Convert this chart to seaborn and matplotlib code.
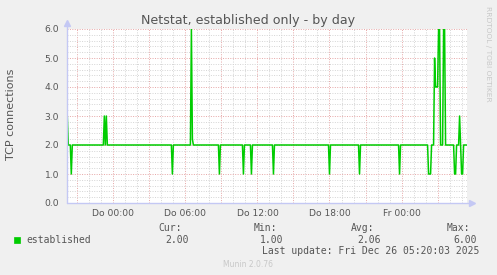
import matplotlib
matplotlib.use("Agg")
import matplotlib.pyplot as plt
import matplotlib.dates as mdates
from matplotlib.ticker import MultipleLocator, FuncFormatter
from matplotlib.patches import Rectangle
import pandas as pd
import seaborn as sns

# ---------------- data (breakpoints of the 5-minute series) ----------------
times = [
    "2025-12-24 20:10", "2025-12-24 20:15", "2025-12-24 20:25", "2025-12-24 20:30",
    "2025-12-24 20:35", "2025-12-24 23:10", "2025-12-24 23:15", "2025-12-24 23:20",
    "2025-12-24 23:25", "2025-12-24 23:30",
    "2025-12-25 04:50", "2025-12-25 04:55", "2025-12-25 05:00",
    "2025-12-25 06:25", "2025-12-25 06:30", "2025-12-25 06:35", "2025-12-25 06:40",
    "2025-12-25 08:45", "2025-12-25 08:50", "2025-12-25 08:55",
    "2025-12-25 10:45", "2025-12-25 10:50", "2025-12-25 10:55",
    "2025-12-25 11:25", "2025-12-25 11:30", "2025-12-25 11:35",
    "2025-12-25 13:15", "2025-12-25 13:20", "2025-12-25 13:25",
    "2025-12-25 17:55", "2025-12-25 18:00", "2025-12-25 18:05",
    "2025-12-25 20:25", "2025-12-25 20:30", "2025-12-25 20:35",
    "2025-12-25 23:45", "2025-12-25 23:50", "2025-12-25 23:55",
    "2025-12-26 02:10", "2025-12-26 02:15", "2025-12-26 02:25", "2025-12-26 02:30",
    "2025-12-26 02:40", "2025-12-26 02:45", "2025-12-26 02:50", "2025-12-26 02:55",
    "2025-12-26 03:00", "2025-12-26 03:05", "2025-12-26 03:10", "2025-12-26 03:15",
    "2025-12-26 03:25", "2025-12-26 03:30", "2025-12-26 03:35", "2025-12-26 03:40",
    "2025-12-26 04:20", "2025-12-26 04:25", "2025-12-26 04:30", "2025-12-26 04:35",
    "2025-12-26 04:45", "2025-12-26 04:50", "2025-12-26 04:55", "2025-12-26 05:00",
    "2025-12-26 05:05", "2025-12-26 05:10", "2025-12-26 05:25",
]
values = [
    3.0, 2.0, 2.0, 1.0,
    2.0, 2.0, 3.0, 2.0,
    3.0, 2.0,
    2.0, 1.0, 2.0,
    2.0, 6.0, 2.2, 2.0,
    2.0, 1.0, 2.0,
    2.0, 1.0, 2.0,
    2.0, 1.0, 2.0,
    2.0, 1.0, 2.0,
    2.0, 1.0, 2.0,
    2.0, 1.0, 2.0,
    2.0, 1.0, 2.0,
    2.0, 1.0, 1.0, 2.0,
    2.0, 5.0, 4.0, 4.0,
    4.0, 6.0, 6.0, 2.0,
    2.0, 6.0, 6.0, 2.0,
    2.0, 1.0, 1.0, 2.0,
    2.0, 3.0, 2.0, 1.0,
    1.0, 2.0, 2.0,
]

title = "Netstat, established only - by day"
y_label = "TCP connections"
series_name = "established"
stat_labels = ["Cur:", "Min:", "Avg:", "Max:"]
stat_values = ["2.00", "1.00", "2.06", "6.00"]
last_update = "Last update: Fri Dec 26 05:20:03 2025"
footer = "Munin 2.0.76"
side_text = "RRDTOOL / TOBI OETIKER"
x_start = "2025-12-24 20:08:30"
x_end = "2025-12-26 05:27:00"
weekday_abbr = {0: "Mo", 1: "Di", 2: "Mi", 3: "Do", 4: "Fr", 5: "Sa", 6: "So"}

df = pd.DataFrame({"time": pd.to_datetime(times), "value": values})

# ---------------- style ----------------
sns.set_theme(style="white")
plt.rcParams["font.family"] = ["DejaVu Sans"]

W, H = 497, 275
BG = "#F0F0F0"
TXT = "#555555"
LINE = "#00CC00"
AXC = "#C4C8F4"

fig = plt.figure(figsize=(W / 100, H / 100), dpi=100, facecolor=BG)
ax = fig.add_axes([67 / W, 1 - 203 / H, 400 / W, 174 / H])
ax.set_facecolor("white")

sns.lineplot(data=df, x="time", y="value", ax=ax, color=LINE, lw=1.1, zorder=5)

ax.set_xlim(pd.Timestamp(x_start), pd.Timestamp(x_end))
ax.set_ylim(0, 6)

ax.xaxis.set_major_locator(mdates.HourLocator(byhour=range(0, 24, 3)))
ax.xaxis.set_minor_locator(mdates.HourLocator())


def fmt(x, pos):
    d = mdates.num2date(x)
    if d.hour % 6 == 0 and d.minute == 0:
        return f"{weekday_abbr[d.weekday()]} {d:%H:%M}"
    return ""


ax.xaxis.set_major_formatter(FuncFormatter(fmt))
ax.yaxis.set_major_locator(MultipleLocator(1.0))
ax.yaxis.set_minor_locator(MultipleLocator(0.2))
ax.yaxis.set_major_formatter(FuncFormatter(lambda v, p: f"{v:.1f}"))

ax.set_axisbelow(True)
ax.grid(which="minor", color="#D4D4D4", linestyle=(0, (1, 1.5)), lw=0.7)
ax.grid(which="major", color="#E6A6A6", linestyle=(0, (1, 1.5)), lw=0.7)

ax.tick_params(which="both", direction="out", length=2, width=0.7,
               labelsize=6.6, labelcolor=TXT, pad=2.5)
ax.tick_params(which="major", colors="#E6A6A6", labelcolor=TXT)
ax.tick_params(which="minor", colors="#D4D4D4")
ax.tick_params(axis="y", which="both", pad=3.6)

ax.set_xlabel("")
ax.set_ylabel("")
for s in ax.spines.values():
    s.set_visible(False)

# axis lines with arrows
ax.plot([0, 0], [0, 1 + 6 / 174], transform=ax.transAxes, color=AXC, lw=1,
        clip_on=False, zorder=6)
ax.plot([0], [1 + 6 / 174], transform=ax.transAxes, marker="^", ms=4.5,
        color=AXC, clip_on=False, zorder=6)
ax.plot([0, 1 + 5 / 400], [0, 0], transform=ax.transAxes, color=AXC, lw=1,
        clip_on=False, zorder=6)
ax.plot([1 + 5 / 400], [0], transform=ax.transAxes, marker=">", ms=4.5,
        color=AXC, clip_on=False, zorder=6)


def ftext(x, y, s, **kw):
    fig.text(x / W, 1 - y / H, s, **kw)


ftext(248.5, 24, title, ha="center", va="baseline", fontsize=9.1, color=TXT)
ftext(11, 114, y_label, ha="center", va="center", rotation=90, fontsize=8,
      color=TXT)
ftext(488, 53.5, side_text, ha="center", va="center", rotation=270,
      fontsize=5.4, color="#C8C8C8")

mono = dict(family="DejaVu Sans Mono", fontsize=7, color=TXT, va="baseline",
            ha="left")
fig.patches.append(Rectangle((14 / W, 1 - 243 / H), 6 / W, 6 / H,
                             transform=fig.transFigure, facecolor=LINE,
                             edgecolor=LINE, lw=0.5))
ftext(26, 243, series_name, **mono)
label_x = [158, 254, 351, 447]
value_x = [165, 260, 357, 453]
for lx, vx, lab, val in zip(label_x, value_x, stat_labels, stat_values):
    ftext(lx, 231, lab, **mono)
    ftext(vx, 243, val, **mono)
ftext(262, 254, last_update, **mono)
ftext(248, 267, footer, ha="center", va="baseline", fontsize=5.5,
      color="#C8C8C8")

fig.savefig("out.png", dpi=100, facecolor=BG)
